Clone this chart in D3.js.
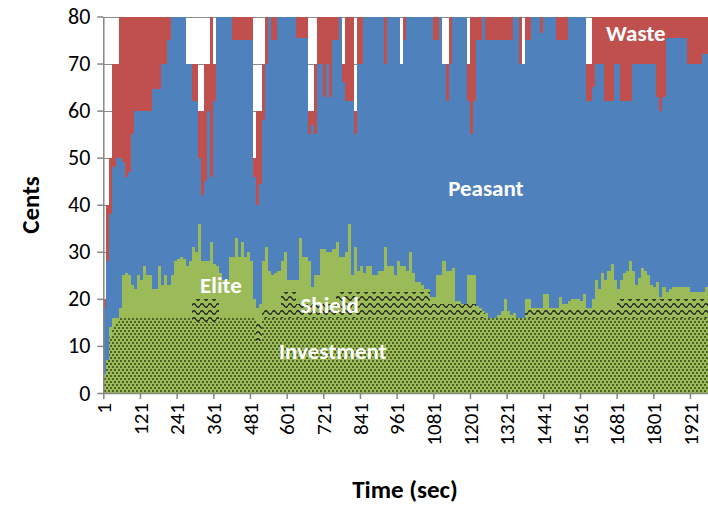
<!DOCTYPE html>
<html>
<head>
<meta charset="utf-8">
<script src="https://cdn.jsdelivr.net/npm/d3@7"></script>
<style>
  body { margin: 0; background: #fff; }
  svg { display: block; font-family: Calibri, Carlito, Lato, sans-serif; }
</style>
</head>
<body>
<div id="chart"></div>
<script>
// x categories (seconds) and axis labels
const timeTicks = [1, 121, 241, 361, 481, 601, 721, 841, 961, 1081, 1201, 1321, 1441, 1561, 1681, 1801, 1921];
const yTicks = [0, 10, 20, 30, 40, 50, 60, 70, 80];
const seriesNames = ["Investment", "Shield", "Elite", "Peasant", "Waste"];

// one reading per 10 s step (t = 1, 11, 21 ... 1971), in cents
const investment = [
  4,7,12,14,15,16,16,16,16,16, 16,16,16,16,16,16,16,16,16,16,
  16,16,16,16,16,16,16,16,16,15, 15,15,15,15,15,15,15,15,16,16,
  16,16,16,16,16,16,16,16,16,16, 11,11,16,16,16,16,16,16,16,16,
  16,16,16,16,16,16,16,16,16,16, 16,16,16,16,16,16,16,16,16,16,
  16,16,16,16,16,16,16,16,16,16, 16,16,16,16,16,16,16,16,16,16,
  16,16,16,16,16,16,16,16,16,16, 16,16,16,16,16,16,16,16,16,16,
  16,16,16,16,16,16,16,16,16,16, 16,16,16,16,16,16,16,16,16,16,
  16,16,16,16,16,16,16,16,16,16, 16,16,16,16,16,16,16,16,16,16,
  16,16,16,16,16,16,16,16,16,16, 16,16,16,16,16,16,16,16,16,16,
  16,16,16,16,16,16,16,16,16,16, 16,16,16,16,16,16,16,16
];
const shield = [
  0,0,0,0,0,0,0,0,0,0, 0,0,0,0,0,0,0,0,0,0,
  0,0,0,0,0,0,0,0,0,5, 5,5,5,5,5,5,5,5,0,0,
  0,0,0,0,0,0,0,0,0,0, 4,4,2,2,2,2,2,2,5.5,5.5,
  5.5,5.5,5.5,3,3,3,3,3,3,3, 3,3,3,3,3,3,5.5,5.5,5.5,5.5,
  5.5,5.5,5.5,5.5,5.5,5.5,5.5,5.5,5.5,5.5, 5.5,5.5,5.5,5.5,5.5,5.5,5.5,5.5,5.5,5.5,
  5.5,5.5,5.5,5.5,5.5,5.5,5.5,3,3,3, 3,3,3,3,3,3,3,3,3,3,
  3,3,2,1.5,1,0.5,0,0,0,0, 0,0,0,0,0,0,0,0,2,2,
  2,2,2,2,2,2,2,2,2,2, 2,2,2,2,2,2,2,2,2,2,
  2,2,2,2,2,2,2,2,4,4, 4,4,4,4,4,4,4,4,4,4,
  4,4,4,4,4,4,4,4,4,4, 4,4,4,4,4,4,4,4
];
const elite = [
  0,0,2,2,1,2,9,9.5,9,7, 6,9,8,11,9,9,6,6,11,7,
  9,7,9,12,12.5,13,12.5,11,12,11, 10,16,8,8,8,12,7.5,7,9.5,8,
  8,13,13,17,13,16,13,14,12,4, 3,4,10,13,8,7,7.5,8,6.5,8.5,
  2.5,2.5,2.5,5,14,10,10,9,3.5,6, 6,11.5,11.5,11,11,11.5,10.5,7.5,7.5,8.5,
  14.5,3.5,9.5,4.5,5.5,4,5.5,5.5,3.5,3.5, 4.5,4.5,9.5,5.5,5.5,3.5,6.5,5.5,5.5,4.5,
  8.5,4,2,2,1.5,0.5,0.5,1.5,1.5,6, 6,9,7,7,7.5,0.5,0.5,0,0,6,
  6,6,0.5,0.5,0.5,0.5,0,0,0,0.5, 1.5,4,1.5,0.5,1,0,0,0,2,2,
  0,0,0,0,3,3,0,0,0,2.5, 1,1,1.5,2,2,2,1.5,3,0,0,
  2,6,4,7.5,6,8,9.5,6,2,4, 5.5,6,8,6,3,4.5,6.5,6,5,3,
  2.5,3.5,0.5,2.5,1.5,2,2.5,2.5,2.5,2.5, 2.5,2.5,1.5,1.5,1.5,1.5,1.5,2.5
];
const peasant = [
  14,21,24,32,34,32,24,20.5,22,32, 38,35,36,33,35,35,42.5,42.5,37.5,47,
  45,52,55,52,51.5,51,51.5,43,42,31, 32,14,14,17,32,14,34.5,53,54.5,56,
  56,51,46,42,46,43,46,45,47,26, 22,25.5,30,39,54,50,49.5,54,52,50,
  56,56,56,51.5,42.5,46.5,46.5,27,34.5,30, 45,39.5,32.5,40,33,44.5,43,51,37,32,
  26,37,24,44,43,54.5,53,53,55,55, 54,54,39,53,53,55,52,43,48,54,
  50,54.5,56.5,56.5,57,58,58,59.5,54.5,50, 55,42,36,44,53.5,60.5,60.5,61,61,37,
  30,37,56.5,57,62.5,58,59,59,59,58.5, 57.5,55,57.5,58.5,63,64,54,54,55,55,
  62,62,62,58.5,59,59,62,62,57,54.5, 56,56,60.5,60,60,60,60.5,59,44,44,
  45,46,48,44.5,38,36,34.5,46,48,38, 36.5,36,34,44,47,45.5,43.5,44,45,47,
  47.5,39.5,39.5,40.5,54,53.5,53,53,53,53, 53,47.5,48.5,48.5,48.5,48.5,50.5,49.5
];
const waste = [
  2,12,12,22,20,30,31,34,33,25, 20,20,20,20,20,20,15.5,15.5,15.5,10,
  10,5,0,0,0,0,0,0,0,8, 8,10,18,25,10,34,8,0,0,0,
  0,0,5,5,5,5,5,5,5,4, 20,15.5,12,10,0,5,5,0,0,0,
  0,0,0,4.5,4.5,4.5,4.5,5,3,15, 10,10,17,10,17,5,5,0,4,18,
  18,18,5,10,10,0,0,0,0,0, 0,0,10,0,0,0,0,0,5,0,
  0,0,0,0,0,0,0,0,5,5, 0,0,8,10,0,0,0,0,0,8,
  25,18,5,5,0,5,5,5,5,5, 5,5,5,5,0,0,10,0,5,5,
  0,0,0,3.5,0,0,0,0,5,5, 5,5,0,0,0,0,0,0,8,8,
  15,10,10,10,18,18,18,10,10,18, 18,18,18,10,10,10,10,10,10,10,
  10,17,20,17,4.5,4.5,4.5,4.5,4.5,4.5, 4.5,10,10,10,10,10,8,8
];
const time = d3.range(1, 1981, 10);
const lastTime = 1980;

const colors = {
  Investment: "url(#dots)",
  Shield: "url(#waves)",
  Elite: "#9bbb59",
  Peasant: "#4f81bd",
  Waste: "#c0504d"
};

const width = 708, height = 508;
const plot = { left: 103.3, right: 708, top: 16.5, bottom: 393 };

const svg = d3.select("#chart").append("svg")
  .attr("width", width)
  .attr("height", height);

// fill patterns (Excel style dotted / wave)
const defs = svg.append("defs");
const dots = defs.append("pattern")
  .attr("id", "dots").attr("patternUnits", "userSpaceOnUse")
  .attr("width", 4).attr("height", 6);
dots.append("rect").attr("width", 4).attr("height", 6).attr("fill", "#9bbb59");
dots.append("rect").attr("x", 0).attr("y", 0).attr("width", 2).attr("height", 2).attr("fill", "#4f6226");
dots.append("rect").attr("x", 2).attr("y", 3).attr("width", 2).attr("height", 2).attr("fill", "#4f6226");

const waves = defs.append("pattern")
  .attr("id", "waves").attr("patternUnits", "userSpaceOnUse")
  .attr("width", 8).attr("height", 7);
waves.append("rect").attr("width", 8).attr("height", 7).attr("fill", "#9bbb59");
waves.append("path")
  .attr("d", "M0,4.5 Q2,1 4,4.5 T8,4.5")
  .attr("fill", "none").attr("stroke", "#1e1e1e").attr("stroke-width", 1.4);

defs.append("clipPath").attr("id", "plotClip")
  .append("rect")
  .attr("x", plot.left).attr("y", plot.top)
  .attr("width", plot.right - plot.left).attr("height", plot.bottom - plot.top);

const x = d3.scaleLinear().domain([1, lastTime]).range([plot.left, plot.right]);
const y = d3.scaleLinear().domain([0, 80]).range([plot.bottom, plot.top]);

// rows for the stack, plus one closing row so the last step reaches the edge
const rows = time.map((t, i) => ({
  time: t,
  Investment: investment[i],
  Shield: shield[i],
  Elite: elite[i],
  Peasant: peasant[i],
  Waste: waste[i]
}));
rows.push(Object.assign({}, rows[rows.length - 1], { time: lastTime }));

const stacked = d3.stack().keys(seriesNames)(rows);

// gridlines
svg.append("g")
  .selectAll("line")
  .data(yTicks.filter(d => d > 0))
  .enter().append("line")
  .attr("x1", plot.left).attr("x2", plot.right)
  .attr("y1", d => Math.round(y(d)) + 0.5).attr("y2", d => Math.round(y(d)) + 0.5)
  .attr("stroke", "#8c8c8c").attr("stroke-width", 1);

const area = d3.area()
  .curve(d3.curveStepAfter)
  .x(d => x(d.data.time))
  .y0(d => y(d[0]))
  .y1(d => y(d[1]));

svg.append("g")
  .attr("clip-path", "url(#plotClip)")
  .selectAll("path")
  .data(stacked)
  .enter().append("path")
  .attr("d", area)
  .attr("fill", d => colors[d.key])
  .attr("shape-rendering", "crispEdges");

// axes
const yAxis = svg.append("g")
  .attr("transform", `translate(${plot.left},0)`)
  .call(d3.axisLeft(y).tickValues(yTicks).tickSize(6).tickSizeOuter(0).tickPadding(7));

const xAxis = svg.append("g")
  .attr("transform", `translate(0,${plot.bottom})`)
  .call(d3.axisBottom(x).tickValues(timeTicks).tickFormat(d3.format("d")).tickSize(6).tickSizeOuter(0));

xAxis.selectAll("text")
  .attr("transform", "rotate(-90)")
  .attr("x", -10)
  .attr("y", 0)
  .attr("dy", "0.35em")
  .style("text-anchor", "end");

[yAxis, xAxis].forEach(g => {
  g.select(".domain").attr("stroke", "#868686").attr("stroke-width", 1.5);
  g.selectAll(".tick line").attr("stroke", "#868686").attr("stroke-width", 1.5);
  g.selectAll("text")
    .attr("fill", "#000")
    .style("font-size", "21px")
    .style("font-family", "Calibri, Carlito, Lato, sans-serif");
});
yAxis.selectAll("text").style("font-size", "22px");

// axis titles
svg.append("text")
  .attr("transform", "translate(30,205) rotate(-90)")
  .attr("text-anchor", "middle")
  .attr("dominant-baseline", "central")
  .style("font-size", "25px")
  .style("font-weight", "bold")
  .text("Cents");

svg.append("text")
  .attr("x", 405).attr("y", 489)
  .attr("text-anchor", "middle")
  .attr("dominant-baseline", "central")
  .style("font-size", "25px")
  .style("font-weight", "bold")
  .text("Time (sec)");

// series labels on the areas
const seriesLabels = [
  { name: "Waste", t: 1744, v: 76.5 },
  { name: "Peasant", t: 1253, v: 43.5 },
  { name: "Elite", t: 386, v: 23 },
  { name: "Shield", t: 742, v: 18.8 },
  { name: "Investment", t: 752, v: 9 }
];
svg.append("g")
  .selectAll("text")
  .data(seriesLabels)
  .enter().append("text")
  .attr("x", d => x(d.t))
  .attr("y", d => y(d.v))
  .attr("text-anchor", "middle")
  .attr("dominant-baseline", "central")
  .attr("fill", "#fff")
  .style("font-size", "23px")
  .style("font-weight", "bold")
  .text(d => d.name);
</script>
</body>
</html>
